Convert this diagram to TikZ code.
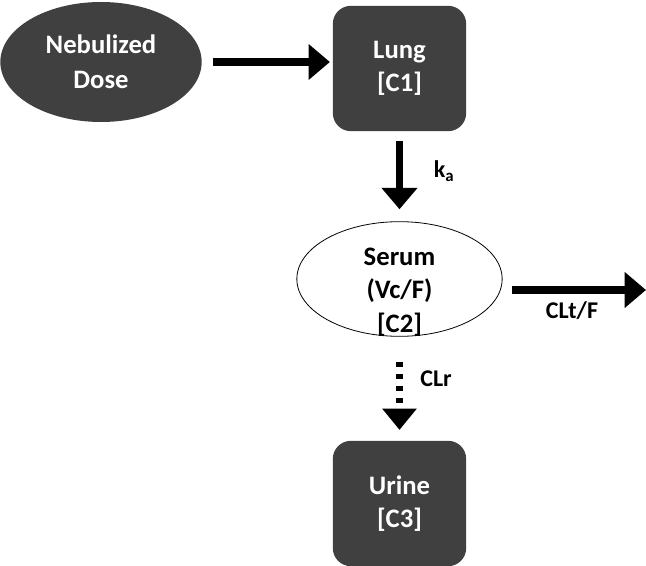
\documentclass[tikz,border=0pt]{standalone}
\usepackage{fontspec}
\setmainfont{Carlito}
\usetikzlibrary{arrows.meta,shapes.geometric}

\definecolor{boxgray}{RGB}{64,64,64}

\tikzset{
  compbox/.style={draw=none, fill=boxgray, rounded corners=13.5pt, minimum width=100pt, minimum height=94pt, text=white, align=center, font=\fontsize{20}{25}\selectfont\bfseries},
  doseell/.style={ellipse, draw=none, fill=boxgray, minimum width=151pt, minimum height=90pt, inner sep=0pt, text=white, align=center, font=\fontsize{20}{26}\selectfont\bfseries},
  serumell/.style={ellipse, draw=black, line width=0.6pt, fill=white, minimum width=154pt, minimum height=86pt, inner sep=0pt},
  serumtext/.style={inner sep=0pt, align=center, font=\fontsize{20}{25}\selectfont\bfseries},
  flowarrow/.style={line width=5.5pt, -{Triangle[length=16pt, width=26pt]}},
  dotarrow/.style={line width=5pt, dash pattern={on 4pt off 5pt}, -{Triangle[length=16pt, width=25pt]}},
  ratelabel/.style={inner sep=0pt, font=\fontsize{18}{22}\selectfont\bfseries}
}

\begin{document}
\begin{tikzpicture}[x=0.75pt,y=0.75pt,yscale=-1,xscale=1]
  \useasboundingbox (0,0) rectangle (646,566);

  %Shape: Ellipse [dose]
  \node[doseell] (dose) at (101,62) {Nebulized\\Dose};
  %Shape: Rounded Rect [lung]
  \node[compbox] (lung) at (399.5,68.5) {Lung\\{[C1]}};
  %Shape: Ellipse [serum]
  \node[serumell] (serum) at (399.5,279) {};
  \node[serumtext] (serumtxt) at (399.5,292) {Serum\\(Vc/F)\\{[C2]}};
  %Shape: Rounded Rect [urine]
  \node[compbox] (urine) at (399.5,503.5) {Urine\\{[C3]}};

  %free end of the elimination arrow
  \coordinate (elim) at (646,290);

  %Straight Lines
  \draw[flowarrow, shorten <=8pt, shorten >=2pt] (dose.east) -- (lung.west |- dose.east);
  %Straight Lines
  \draw[flowarrow, shorten <=7pt, shorten >=9pt] (lung.south) -- (serum.north);
  %Straight Lines
  \draw[flowarrow, shorten <=7pt] (serum.east |- elim) -- (elim);
  %Straight Lines
  \draw[dotarrow, shorten <=19pt, shorten >=8pt] (serum.south) -- (urine.north);

  % Text Node
  \node[ratelabel] (ka) at (444,171) {k\textsubscript{a}};
  % Text Node
  \node[ratelabel] (clt) at (572,311) {CLt/F};
  % Text Node
  \node[ratelabel] (clr) at (436,379) {CLr};
\end{tikzpicture}
\end{document}
